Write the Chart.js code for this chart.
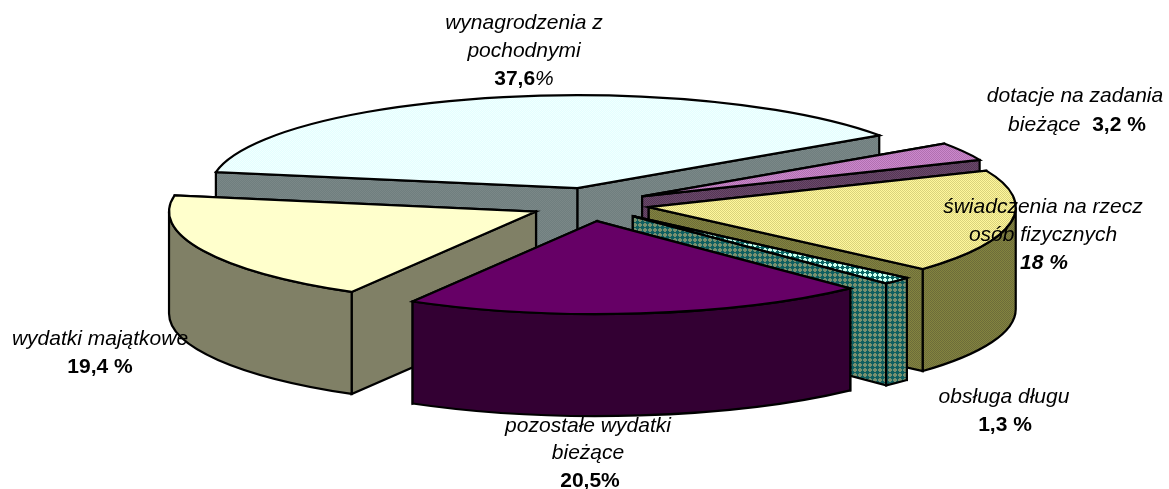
<!DOCTYPE html>
<html lang="pl">
<head>
<meta charset="utf-8">
<title>Struktura wydatków</title>
<script src="https://cdn.jsdelivr.net/npm/chart.js@4"></script>
<style>
    html, body { margin: 0; padding: 0; background: #fff; }
    canvas { display: block; }
</style>
</head>
<body>
<canvas id="pie-chart" width="1169" height="489"></canvas>
<script>
// values, clockwise starting at the left edge of the biggest slice
const categories = ["wynagrodzenia z pochodnymi", "dotacje na zadania bieżące", "świadczenia na rzecz osób fizycznych", "obsługa długu", "pozostałe wydatki bieżące", "wydatki majątkowe"];
const values = [37.6, 3.2, 18, 1.3, 20.5, 19.4];
const valueLabels = ["37,6", "3,2 %", "18 %", "1,3 %", "20,5%", "19,4 %"];

// back to front
const drawOrder = [0, 1, 2, 5, 3, 4];

// the tilted pie: half axes of the ellipse and height of the wall
const rimX = 367;
const rimY = 93;
const explodeY = 103;
const depth = 102;

const plainFont = 'italic 21px "Liberation Sans", Arial, sans-serif';
const boldFont = 'bold 21px "Liberation Sans", Arial, sans-serif';
const boldItalicFont = 'italic bold 21px "Liberation Sans", Arial, sans-serif';

// each line is a list of [text, font] runs, centered on x
const labelLines = [
    { x: 524, y: 29, runs: [["wynagrodzenia z", plainFont]] },
    { x: 524, y: 57, runs: [["pochodnymi", plainFont]] },
    { x: 524, y: 85, runs: [[valueLabels[0], boldFont], ["%", plainFont]] },
    { x: 1075, y: 102, runs: [["dotacje na zadania", plainFont]] },
    { x: 1077, y: 131, runs: [["bieżące  ", plainFont], [valueLabels[1], boldFont]] },
    { x: 1043, y: 213, runs: [["świadczenia na rzecz", plainFont]] },
    { x: 1043, y: 241, runs: [["osób fizycznych", plainFont]] },
    { x: 1044, y: 269, runs: [[valueLabels[2], boldItalicFont]] },
    { x: 1004, y: 403, runs: [["obsługa długu", plainFont]] },
    { x: 1005, y: 431, runs: [[valueLabels[3], boldFont]] },
    { x: 588, y: 432, runs: [["pozostałe wydatki", plainFont]] },
    { x: 588, y: 459, runs: [["bieżące", plainFont]] },
    { x: 590, y: 487, runs: [[valueLabels[4], boldFont]] },
    { x: 100, y: 345, runs: [["wydatki majątkowe", plainFont]] },
    { x: 100, y: 373, runs: [[valueLabels[5], boldFont]] }
];

function checker(ctx, light, dark) {
    const tile = document.createElement("canvas");
    tile.width = 2;
    tile.height = 2;
    const t = tile.getContext("2d");
    t.fillStyle = light;
    t.fillRect(0, 0, 2, 2);
    t.fillStyle = dark;
    t.fillRect(0, 0, 1, 1);
    t.fillRect(1, 1, 1, 1);
    return ctx.createPattern(tile, "repeat");
}

function diamonds(ctx, back, dot) {
    const tile = document.createElement("canvas");
    tile.width = 5;
    tile.height = 5;
    const t = tile.getContext("2d");
    t.fillStyle = back;
    t.fillRect(0, 0, 5, 5);
    t.fillStyle = dot;
    t.fillRect(2, 0, 1, 5);
    t.fillRect(0, 2, 5, 1);
    t.fillRect(1, 1, 3, 3);
    return ctx.createPattern(tile, "repeat");
}

function sliceStyles(ctx) {
    return [
        { top: checker(ctx, "#e2ffff", "#f2ffff"), wall: checker(ctx, "#6f7f7f", "#7b8787") },
        { top: checker(ctx, "#cc88cc", "#b070b0"), wall: checker(ctx, "#6a4a6a", "#553555") },
        { top: checker(ctx, "#fff79c", "#d9d27c"), wall: checker(ctx, "#84843f", "#6c6c3a") },
        { top: diamonds(ctx, "#ccffee", "#0a6666"), wall: diamonds(ctx, "#779070", "#0f5f60") },
        { top: "#660066", wall: "#330033" },
        { top: "#ffffcc", wall: "#808066" }
    ];
}

function paint(ctx, fill) {
    ctx.fillStyle = fill;
    ctx.fill();
    ctx.stroke();
}

function drawSlice(ctx, arc, style) {
    const mid = (arc.startAngle + arc.endAngle) / 2;
    const cx = arc.x + Math.cos(mid) * arc.options.offset * rimX / arc.outerRadius;
    const cy = arc.y + Math.sin(mid) * arc.options.offset * explodeY / arc.outerRadius;
    const rim = a => ({ x: cx + Math.cos(a) * rimX, y: cy + Math.sin(a) * rimY });

    // flat cut faces, the one further back goes first
    const cuts = [rim(arc.startAngle), rim(arc.endAngle)].sort((p, q) => p.y - q.y);
    cuts.forEach(p => {
        ctx.beginPath();
        ctx.moveTo(cx, cy);
        ctx.lineTo(p.x, p.y);
        ctx.lineTo(p.x, p.y + depth);
        ctx.lineTo(cx, cy + depth);
        ctx.closePath();
        paint(ctx, style.wall);
    });

    // outer wall, only the part that faces us
    for (let k = -1; k <= 1; k++) {
        const from = Math.max(arc.startAngle, k * 2 * Math.PI);
        const to = Math.min(arc.endAngle, Math.PI + k * 2 * Math.PI);
        if (from >= to) continue;
        ctx.beginPath();
        ctx.ellipse(cx, cy, rimX, rimY, 0, from, to);
        ctx.ellipse(cx, cy + depth, rimX, rimY, 0, to, from, true);
        ctx.closePath();
        paint(ctx, style.wall);
    }

    ctx.beginPath();
    ctx.moveTo(cx, cy);
    ctx.ellipse(cx, cy, rimX, rimY, 0, arc.startAngle, arc.endAngle);
    ctx.closePath();
    paint(ctx, style.top);
}

function drawLabels(ctx) {
    ctx.fillStyle = "#000";
    ctx.textBaseline = "alphabetic";
    ctx.textAlign = "left";
    labelLines.forEach(line => {
        let width = 0;
        line.runs.forEach(([text, font]) => {
            ctx.font = font;
            width += ctx.measureText(text).width;
        });
        let x = line.x - width / 2;
        line.runs.forEach(([text, font]) => {
            ctx.font = font;
            ctx.fillText(text, x, line.y);
            x += ctx.measureText(text).width;
        });
    });
}

// Chart.js has no 3D pie, so the arcs it lays out are drawn tilted here
const tiltedPie = {
    id: "tiltedPie",
    beforeDatasetDraw(chart, args) {
        const ctx = chart.ctx;
        const styles = sliceStyles(ctx);
        ctx.save();
        ctx.strokeStyle = "#000";
        ctx.lineWidth = 2.2;
        ctx.lineJoin = "miter";
        drawOrder.forEach(i => drawSlice(ctx, args.meta.data[i], styles[i]));
        ctx.restore();
        return false;
    },
    afterDraw(chart) {
        const ctx = chart.ctx;
        ctx.save();
        drawLabels(ctx);
        ctx.restore();
    }
};

document.addEventListener("DOMContentLoaded", () => {
    const ctx = document.getElementById("pie-chart").getContext("2d");
    new Chart(ctx, {
        type: "pie",
        data: {
            labels: categories,
            datasets: [{ data: values, offset: 30, borderWidth: 0 }]
        },
        options: {
            responsive: false,
            animation: false,
            rotation: -80,
            layout: { padding: { left: 190, right: 179, top: 4.5, bottom: 84.5 } },
            plugins: {
                legend: { display: false },
                tooltip: { enabled: false }
            }
        },
        plugins: [tiltedPie]
    });
});
</script>
</body>
</html>
